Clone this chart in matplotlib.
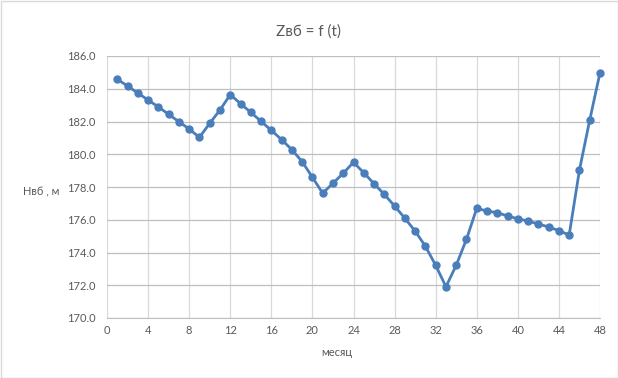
import matplotlib
matplotlib.use("Agg")
import matplotlib.pyplot as plt
from matplotlib.patches import Rectangle

months = list(range(1, 49))
levels = [184.58, 184.17, 183.74, 183.31, 182.89, 182.44, 181.99, 181.54, 181.03, 181.89,
          182.70, 183.64, 183.09, 182.56, 182.01, 181.46, 180.89, 180.28, 179.55, 178.59,
          177.62, 178.23, 178.84, 179.51, 178.87, 178.20, 177.55, 176.84, 176.09, 175.31,
          174.38, 173.22, 171.91, 173.22, 174.81, 176.70, 176.53, 176.43, 176.23, 176.06,
          175.92, 175.74, 175.56, 175.33, 175.07, 179.04, 182.09, 184.98]
x_ticks = list(range(0, 49, 4))
y_ticks = [170.0 + 2 * i for i in range(9)]
title = "Zвб = f (t)"
xlabel = "месяц"
ylabel = "Нвб , м"

plt.rcParams['font.family'] = ['Lato', 'DejaVu Sans']
txt = '#595959'

fig = plt.figure(figsize=(6.18, 3.78), dpi=100)
fig.patches.append(Rectangle((0.5/618, 0.5/378), 1 - 1/618, 1 - 1/378, transform=fig.transFigure,
                             fill=False, edgecolor='#d9d9d9', linewidth=1))
ax = fig.add_axes([107/618, 60/378, 493/618, 262/378])

ax.plot(months, levels, color='#4a7ebb', linewidth=2.0, marker='o', markersize=5,
        markerfacecolor='#4a7ebb', markeredgecolor='#4a7ebb', zorder=3, clip_on=False)

ax.set_xlim(0, 48)
ax.set_ylim(170, 186)
ax.set_xticks(x_ticks)
ax.set_yticks(y_ticks)
ax.set_yticklabels([f"{v:.1f}" for v in y_ticks])
ax.grid(True, axis='x', color='#d9d9d9', linewidth=0.9)
ax.grid(True, axis='y', color='#bfbfbf', linewidth=0.9)
for s in ['top', 'right', 'left']:
    ax.spines[s].set_visible(False)
ax.spines['bottom'].set_color('#bfbfbf')
ax.tick_params(axis='both', length=0, labelsize=8, colors=txt, pad=5)
ax.tick_params(axis='y', pad=8)

fig.text(0.5, 1 - 32/378, title, ha='center', va='center', fontsize=11, color=txt)
fig.text(337/618, 1 - 352/378, xlabel, ha='center', va='center', fontsize=8, color=txt)
fig.text(41/618, 1 - 192/378, ylabel, ha='center', va='center', fontsize=8, color=txt)

fig.savefig("out.png", dpi=100)
